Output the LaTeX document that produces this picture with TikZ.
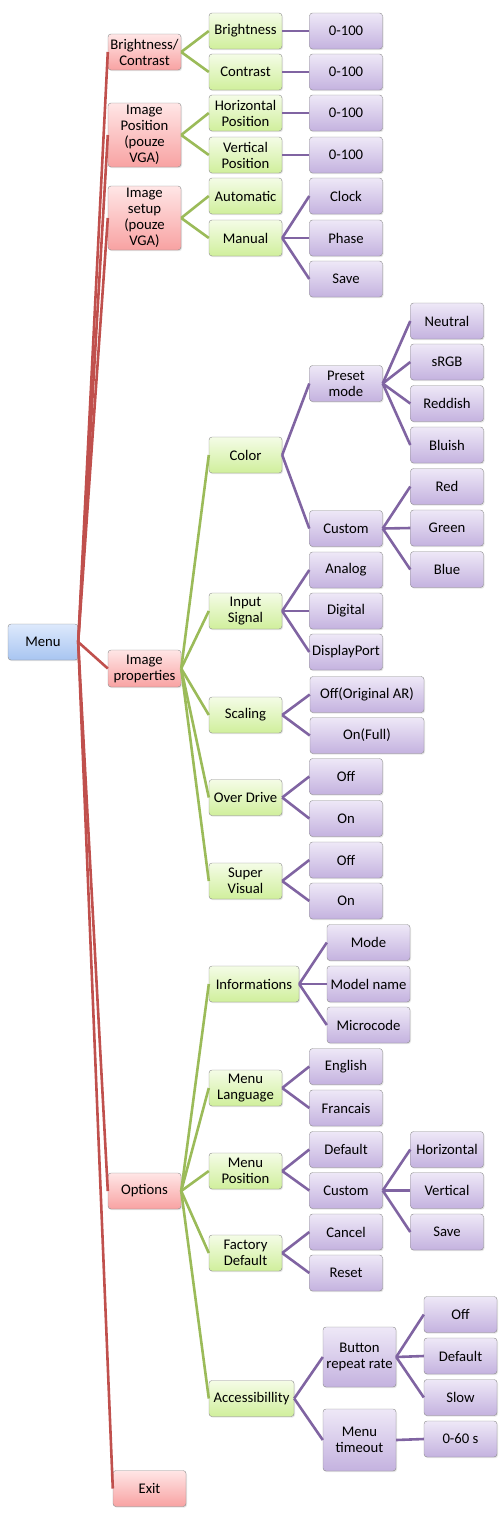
\documentclass[tikz,border=0pt]{standalone}
\usepackage{fontspec}
\setmainfont{Carlito}
\usetikzlibrary{shadows}

\definecolor{lnred}{HTML}{C0504D}
\definecolor{lngreen}{HTML}{9BBB59}
\definecolor{lnpurple}{HTML}{8064A2}
\definecolor{redtop}{HTML}{FFE6E6}
\definecolor{redbot}{HTML}{F8A2A2}
\definecolor{greentop}{HTML}{F4FCE6}
\definecolor{greenbot}{HTML}{D0EF9C}
\definecolor{purptop}{HTML}{EEE8F7}
\definecolor{purpbot}{HTML}{C4B2DF}
\definecolor{bluetop}{HTML}{DDE9FC}
\definecolor{bluebot}{HTML}{A8C5F1}

\begin{document}
\begin{tikzpicture}[x=1pt,y=1pt,
    box/.style={rounded corners=3pt, draw=black!45, align=center,
      minimum width=73, minimum height=36, inner sep=1pt,
      font=\fontsize{14.7}{16}\selectfont,
      drop shadow={opacity=.2, shadow xshift=1pt, shadow yshift=-1.2pt}}]

  \useasboundingbox (0,0) rectangle (503,-1516);

  % root
  \node[box, top color=bluetop, bottom color=bluebot, minimum width=70] (menu) at (43,-642) {Menu};

  % first level
  \begin{scope}[every node/.style={box, top color=redtop, bottom color=redbot}]
    \node (bc)    at (144.5,-52)    {Brightness/\\Contrast};
    \node (ipos)  at (144.5,-135)   [minimum height=64] {Image\\Position\\(pouze\\VGA)};
    \node (iset)  at (144.5,-218)   [minimum height=64] {Image\\setup\\(pouze\\VGA)};
    \node (iprop) at (144.5,-668.5) [minimum height=37] {Image\\properties};
    \node (opt)   at (144.5,-1191)  {Options};
    \node (exit)  at (149.5,-1488.5) {Exit};
  \end{scope}

  % second level
  \begin{scope}[every node/.style={box, top color=greentop, bottom color=greenbot}]
    \node (bri)   at (245.5,-31)    {Brightness};
    \node (con)   at (245.5,-72)    {Contrast};
    \node (hpos)  at (245.5,-113)   {Horizontal\\Position};
    \node (vpos)  at (245.5,-155)   {Vertical\\Position};
    \node (auto)  at (245.5,-196)   {Automatic};
    \node (man)   at (245.5,-238)   {Manual};
    \node (col)   at (245.5,-455)   {Color};
    \node (insig) at (245.5,-611)   {Input\\Signal};
    \node (scal)  at (245.5,-715)   {Scaling};
    \node (odrv)  at (245.5,-797.5) {Over Drive};
    \node (svis)  at (245.5,-881)   {Super\\Visual};
    \node (info)  at (254,-984)     [minimum width=90] {Informations};
    \node (mlang) at (245.5,-1088)  {Menu\\Language};
    \node (mpos)  at (245.5,-1171)  {Menu\\Position};
    \node (fdef)  at (245.5,-1253)  {Factory\\Default};
    \node (acc)   at (251.5,-1398.5) [minimum width=85] {Accessibillity};
  \end{scope}

  % third and fourth level
  \begin{scope}[every node/.style={box, top color=purptop, bottom color=purpbot}]
    \node (bri0)  at (346,-31)    {0-100};
    \node (con0)  at (346,-72)    {0-100};
    \node (hpos0) at (346,-113)   {0-100};
    \node (vpos0) at (346,-155)   {0-100};
    \node (clk)   at (346,-196)   {Clock};
    \node (pha)   at (346,-238)   {Phase};
    \node (sav)   at (346,-279)   {Save};
    \node (pre)   at (346,-383.5) {Preset\\mode};
    \node (cus)   at (346,-528.5) {Custom};
    \node (ana)   at (346,-570)   {Analog};
    \node (dig)   at (346,-611)   {Digital};
    \node (dp)    at (346,-652)   {DisplayPort};
    \node (scoff) at (367,-694.5) [minimum width=114] {Off(Original AR)};
    \node (scon)  at (367,-735.5) [minimum width=114] {On(Full)};
    \node (odoff) at (346,-776.5) {Off};
    \node (odon)  at (346,-818.5) {On};
    \node (svoff) at (346,-860)   {Off};
    \node (svon)  at (346,-901)   {On};
    \node (mode)  at (368.5,-942.5) [minimum width=83] {Mode};
    \node (mname) at (368.5,-984)   [minimum width=83] {Model name};
    \node (mcode) at (368.5,-1025)  [minimum width=83] {Microcode};
    \node (eng)   at (346,-1066.5) {English};
    \node (fra)   at (346,-1108)   {Francais};
    \node (mdef)  at (346,-1149.5) {Default};
    \node (mcus)  at (346,-1190.5) {Custom};
    \node (can)   at (346,-1232)   {Cancel};
    \node (res)   at (346,-1273)   {Reset};
    \node (brr)   at (359.5,-1357) [minimum height=60] {Button\\repeat rate};
    \node (mto)   at (359.5,-1440) [minimum height=62] {Menu\\timeout};

    \node (neu)   at (447,-321)    {Neutral};
    \node (srgb)  at (447,-362)    {sRGB};
    \node (redd)  at (447,-403.5)  {Reddish};
    \node (blui)  at (447,-445)    {Bluish};
    \node (red)   at (447,-486.5)  {Red};
    \node (gre)   at (447,-528)    {Green};
    \node (blue)  at (447,-569.5)  {Blue};
    \node (hor)   at (447,-1149.5) {Horizontal};
    \node (ver)   at (447,-1190.5) {Vertical};
    \node (msav)  at (447,-1232)   {Save};
    \node (roff)  at (460.5,-1314.5) {Off};
    \node (rdef)  at (460.5,-1356)   {Default};
    \node (rslow) at (460.5,-1397.5) {Slow};
    \node (tout)  at (460.5,-1439)   {0-60 s};
  \end{scope}

  \begin{scope}[every edge/.style={draw=lnred, line width=2.6pt}]
    \path (menu.east) edge (bc.west);
    \path (menu.east) edge (ipos.west);
    \path (menu.east) edge (iset.west);
    \path (menu.east) edge (iprop.west);
    \path (menu.east) edge (opt.west);
    \path (menu.east) edge (exit.west);
  \end{scope}

  \begin{scope}[every edge/.style={draw=lngreen, line width=2.6pt}]
    \path (bc.east)    edge (bri.west);
    \path (bc.east)    edge (con.west);
    \path (ipos.east)  edge (hpos.west);
    \path (ipos.east)  edge (vpos.west);
    \path (iset.east)  edge (auto.west);
    \path (iset.east)  edge (man.west);
    \path (iprop.east) edge (col.west);
    \path (iprop.east) edge (insig.west);
    \path (iprop.east) edge (scal.west);
    \path (iprop.east) edge (odrv.west);
    \path (iprop.east) edge (svis.west);
    \path (opt.east)   edge (info.west);
    \path (opt.east)   edge (mlang.west);
    \path (opt.east)   edge (mpos.west);
    \path (opt.east)   edge (fdef.west);
    \path (opt.east)   edge (acc.west);
  \end{scope}

  \begin{scope}[every edge/.style={draw=lnpurple, line width=2.6pt}]
    \path (bri.east)   edge (bri0.west);
    \path (con.east)   edge (con0.west);
    \path (hpos.east)  edge (hpos0.west);
    \path (vpos.east)  edge (vpos0.west);
    \path (man.east)   edge (clk.west);
    \path (man.east)   edge (pha.west);
    \path (man.east)   edge (sav.west);
    \path (col.east)   edge (pre.west);
    \path (col.east)   edge (cus.west);
    \path (pre.east)   edge (neu.west);
    \path (pre.east)   edge (srgb.west);
    \path (pre.east)   edge (redd.west);
    \path (pre.east)   edge (blui.west);
    \path (cus.east)   edge (red.west);
    \path (cus.east)   edge (gre.west);
    \path (cus.east)   edge (blue.west);
    \path (insig.east) edge (ana.west);
    \path (insig.east) edge (dig.west);
    \path (insig.east) edge (dp.west);
    \path (scal.east)  edge (scoff.west);
    \path (scal.east)  edge (scon.west);
    \path (odrv.east)  edge (odoff.west);
    \path (odrv.east)  edge (odon.west);
    \path (svis.east)  edge (svoff.west);
    \path (svis.east)  edge (svon.west);
    \path (info.east)  edge (mode.west);
    \path (info.east)  edge (mname.west);
    \path (info.east)  edge (mcode.west);
    \path (mlang.east) edge (eng.west);
    \path (mlang.east) edge (fra.west);
    \path (mpos.east)  edge (mdef.west);
    \path (mpos.east)  edge (mcus.west);
    \path (mcus.east)  edge (hor.west);
    \path (mcus.east)  edge (ver.west);
    \path (mcus.east)  edge (msav.west);
    \path (fdef.east)  edge (can.west);
    \path (fdef.east)  edge (res.west);
    \path (acc.east)   edge (brr.west);
    \path (acc.east)   edge (mto.west);
    \path (brr.east)   edge (roff.west);
    \path (brr.east)   edge (rdef.west);
    \path (brr.east)   edge (rslow.west);
    \path (mto.east)   edge (tout.west);
  \end{scope}

\end{tikzpicture}
\end{document}
